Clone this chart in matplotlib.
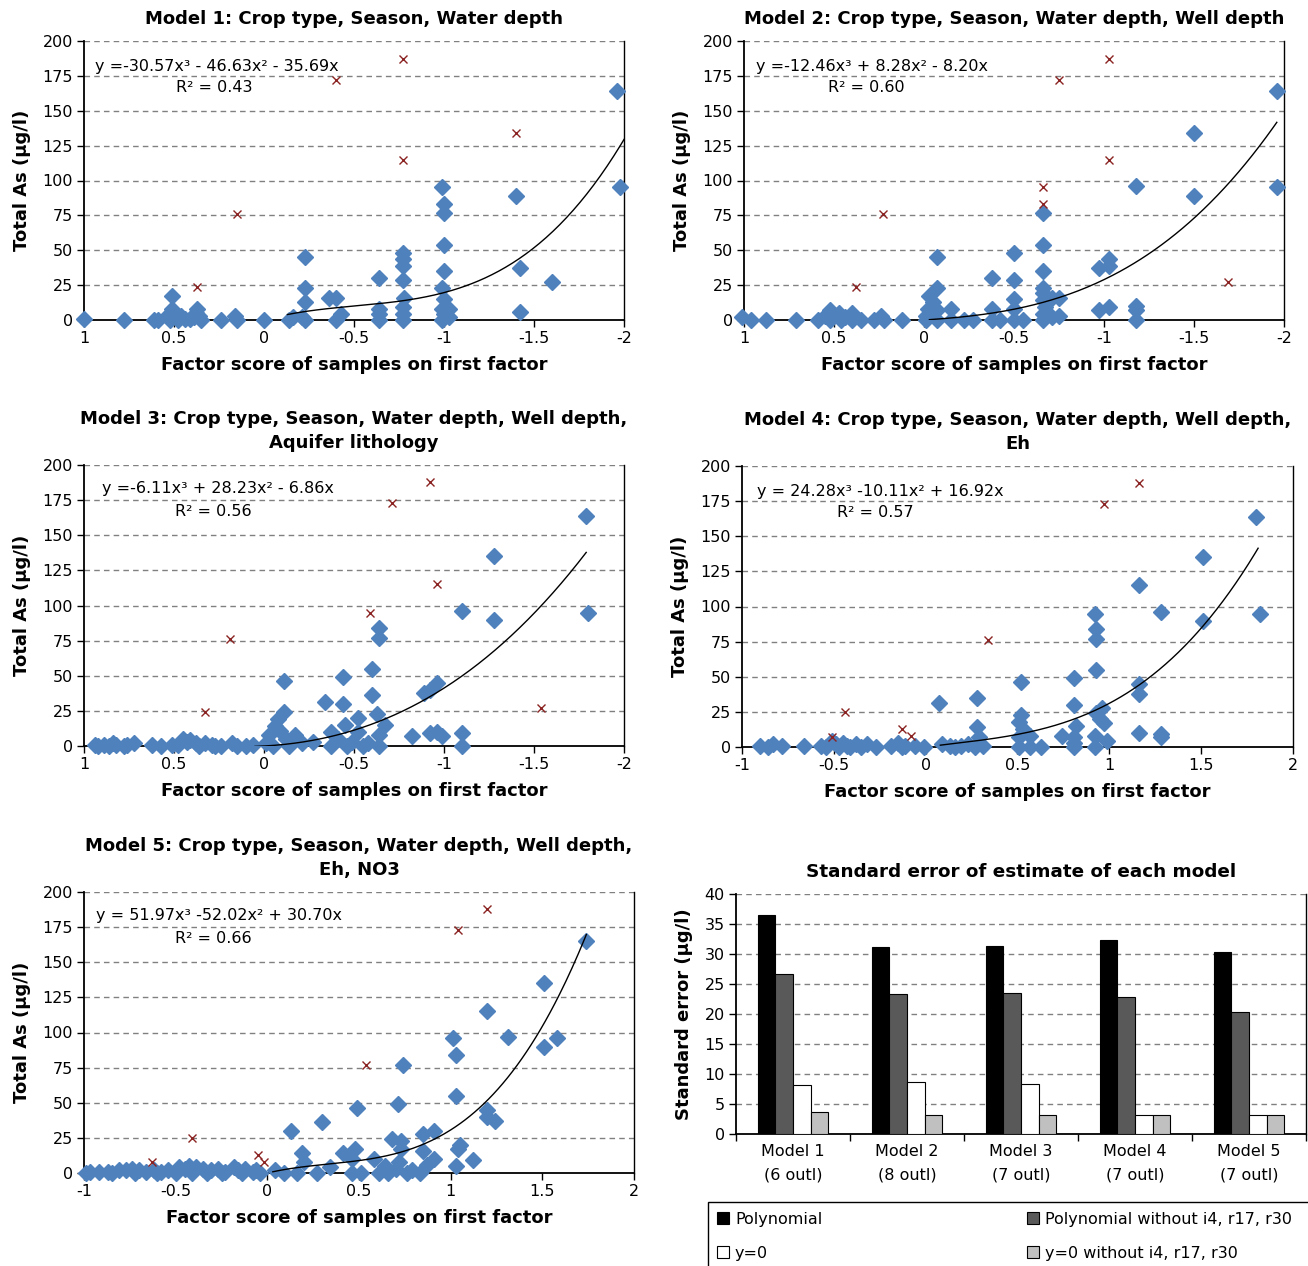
import numpy as np
import matplotlib
matplotlib.use('Agg')
import matplotlib.pyplot as plt
from matplotlib.patches import Rectangle

plt.rcParams['font.family'] = ['DejaVu Sans']
plt.rcParams['axes.unicode_minus'] = False

# ---- data ----
# model 1 (x axis reversed)
m1_pts = [(1.0, 1), (0.78, 0), (0.61, 0), (0.59, 0), (0.51, 17), (0.51, 8), (0.49, 2), (0.52, 0),
          (0.46, 3), (0.41, 1), (0.37, 8), (0.36, 3), (0.35, 0), (0.53, 4), (0.48, 0), (0.44, 1),
          (0.39, 2), (0.38, 5), (0.24, 0), (0.16, 3), (0.15, 0), (0.0, 0), (-0.14, 0), (-0.16, 2),
          (-0.23, 45), (-0.23, 23), (-0.23, 13), (-0.23, 0), (-0.21, 2), (-0.36, 16), (-0.40, 16),
          (-0.40, 0), (-0.43, 4), (-0.64, 30), (-0.64, 8), (-0.64, 0), (-0.64, 4), (-0.77, 48),
          (-0.77, 44), (-0.77, 39), (-0.77, 29), (-0.78, 16), (-0.77, 9), (-0.77, 4), (-0.77, 0),
          (-0.99, 95), (-1.0, 83), (-1.0, 77), (-1.0, 54), (-1.0, 35), (-0.99, 23), (-1.0, 15),
          (-0.99, 8), (-1.0, 4), (-0.99, 0), (-1.03, 8), (-1.03, 2), (-1.40, 89), (-1.42, 37),
          (-1.42, 6), (-1.60, 27), (-1.96, 164), (-1.98, 95)]
m1_out = [(-0.77, 187), (-0.40, 172), (-1.40, 134), (-0.77, 115), (0.15, 76), (0.37, 24)]

m2_pts = [(1.01, 2), (0.96, 0), (0.88, 0), (0.71, 0), (0.59, 0), (0.52, 7), (0.52, 0), (0.47, 5),
          (0.46, 0), (0.40, 5), (0.40, 0), (0.35, 0), (0.28, 0), (0.24, 3), (0.22, 0), (0.12, 0),
          (0.55, 3), (0.44, 2), (-0.07, 45), (-0.07, 23), (-0.03, 17), (-0.05, 13), (-0.02, 8),
          (-0.07, 7), (-0.01, 3), (-0.01, 0), (-0.07, 0), (-0.15, 8), (-0.15, 0), (-0.22, 0),
          (-0.27, 0), (-0.38, 30), (-0.38, 8), (-0.38, 0), (-0.42, 0), (-0.50, 48), (-0.50, 29),
          (-0.50, 15), (-0.50, 8), (-0.50, 0), (-0.55, 0), (-0.66, 77), (-0.66, 54), (-0.66, 35),
          (-0.66, 23), (-0.66, 19), (-0.66, 14), (-0.67, 9), (-0.66, 4), (-0.66, 0), (-0.71, 16),
          (-0.71, 2), (-0.75, 16), (-0.75, 3), (-0.97, 37), (-1.03, 44), (-1.03, 39), (-0.97, 7),
          (-1.03, 9), (-1.18, 96), (-1.18, 10), (-1.18, 7), (-1.18, 0), (-1.50, 134), (-1.50, 89),
          (-1.96, 164), (-1.96, 95)]
m2_out = [(-1.03, 187), (-0.75, 172), (-1.03, 115), (-0.66, 95), (-0.66, 83), (0.23, 76),
          (0.38, 24), (-1.69, 27)]

m3_pts = [(0.94, 1), (0.89, 1), (0.84, 2), (0.82, 1), (0.78, 0), (0.72, 2), (0.92, 0), (0.86, 0),
          (0.76, 1), (0.62, 1), (0.57, 0), (0.51, 1), (0.45, 5), (0.43, 3), (0.41, 4), (0.38, 2),
          (0.33, 2), (0.29, 1), (0.24, 0), (0.18, 2), (0.15, 0), (0.10, 0), (0.06, 1), (0.48, 1),
          (0.36, 0), (0.27, 0), (-0.11, 46), (-0.11, 24), (-0.08, 19), (-0.06, 14), (-0.09, 11),
          (-0.03, 8), (-0.17, 8), (-0.12, 5), (-0.21, 2), (-0.27, 3), (-0.01, 2), (-0.05, 0),
          (-0.14, 0), (-0.34, 31), (-0.37, 10), (-0.37, 0), (-0.44, 49), (-0.44, 30), (-0.45, 15),
          (-0.46, 0), (-0.52, 20), (-0.52, 10), (-0.55, 0), (-0.60, 55), (-0.60, 36), (-0.63, 23),
          (-0.67, 15), (-0.64, 84), (-0.64, 77), (-0.64, 8), (-0.64, 0), (-0.41, 5), (-0.49, 3),
          (-0.58, 2), (-0.82, 7), (-0.89, 38), (-0.92, 40), (-0.96, 45), (-0.92, 9), (-0.96, 10),
          (-0.99, 7), (-1.10, 96), (-1.10, 9), (-1.10, 0), (-1.28, 135), (-1.28, 90),
          (-1.79, 164), (-1.80, 95)]
m3_out = [(-0.92, 188), (-0.71, 173), (-0.96, 115), (-0.59, 95), (0.19, 76), (0.33, 24),
          (-1.54, 27)]

m4_pts = [(-0.90, 1), (-0.83, 2), (-0.78, 1), (-0.66, 1), (-0.57, 1), (-0.51, 4), (-0.49, 2),
          (-0.45, 3), (-0.43, 1), (-0.38, 2), (-0.32, 2), (-0.27, 0), (-0.19, 1), (-0.15, 3),
          (-0.11, 1), (-0.06, 1), (-0.01, 0), (-0.54, 0), (-0.47, 0), (-0.41, 0), (-0.35, 0),
          (-0.13, 0), (-0.86, 0), (0.07, 31), (0.09, 2), (0.16, 0), (0.23, 2), (0.28, 35),
          (0.28, 14), (0.29, 7), (0.27, 0), (0.31, 1), (0.13, 1), (0.19, 1), (0.52, 46), (0.52, 23),
          (0.51, 18), (0.53, 13), (0.51, 7), (0.51, 0), (0.57, 8), (0.57, 0), (0.63, 0), (0.74, 8),
          (0.81, 49), (0.81, 30), (0.82, 15), (0.81, 7), (0.81, 0), (0.81, 3), (0.92, 95),
          (0.93, 84), (0.93, 77), (0.93, 55), (0.96, 28), (0.93, 24), (0.97, 17), (0.92, 8),
          (0.92, 0), (0.99, 4), (0.95, 20), (1.16, 115), (1.16, 45), (1.16, 38), (1.16, 10),
          (1.28, 96), (1.28, 9), (1.28, 7), (1.51, 135), (1.51, 90), (1.80, 164), (1.82, 95)]
m4_out = [(1.16, 188), (0.97, 173), (0.34, 76), (-0.44, 25), (-0.13, 13), (-0.08, 8), (-0.51, 7)]

m5_pts = [(-0.97, 1), (-0.92, 1), (-0.87, 1), (-0.81, 2), (-0.77, 2), (-0.74, 3), (-0.70, 2),
          (-0.66, 1), (-0.62, 2), (-0.58, 1), (-0.54, 2), (-0.48, 4), (-0.45, 3), (-0.43, 5),
          (-0.39, 4), (-0.35, 3), (-0.31, 2), (-0.27, 3), (-0.23, 1), (-0.18, 4), (-0.16, 2),
          (-0.12, 3), (-0.08, 1), (-0.04, 0), (-0.99, 0), (-0.85, 0), (-0.72, 0), (-0.60, 0),
          (-0.50, 0), (-0.41, 0), (-0.33, 0), (-0.25, 0), (-0.14, 0), (-0.06, 2), (0.04, 2),
          (0.09, 0), (0.13, 30), (0.16, 0), (0.19, 14), (0.20, 8), (0.27, 0), (0.30, 36), (0.34, 4),
          (0.41, 14), (0.48, 17), (0.49, 46), (0.46, 10), (0.46, 0), (0.51, 0), (0.58, 10),
          (0.61, 0), (0.66, 0), (0.68, 24), (0.73, 23), (0.71, 49), (0.74, 77), (0.73, 17),
          (0.72, 8), (0.76, 0), (0.83, 0), (0.85, 28), (0.85, 16), (0.91, 30), (0.91, 10),
          (0.87, 6), (0.64, 5), (0.70, 3), (0.79, 2), (1.01, 96), (1.03, 84), (1.03, 55),
          (1.05, 20), (1.04, 17), (1.03, 5), (1.12, 9), (1.20, 115), (1.20, 45), (1.20, 40),
          (1.24, 37), (1.31, 97), (1.51, 135), (1.51, 90), (1.58, 96), (1.74, 165)]
m5_out = [(1.20, 188), (1.04, 173), (0.54, 77), (-0.41, 25), (-0.63, 8), (-0.05, 13), (-0.02, 8)]

# cubic trendline coefficients (x^3, x^2, x, const) and the x range it is drawn over
fit_coefs = [[-30.57, -46.63, -35.69, 0], [-12.46, 8.28, -8.20, 0], [-6.11, 28.23, -6.86, 0],
             [24.28, -10.11, 16.92, 0], [51.97, -52.02, 30.70, 0]]
fit_range = [(-0.13, -2.0), (-0.03, -1.96), (0.05, -1.79), (0.08, 1.81), (0.03, 1.74)]
fit_text = ['y =-30.57x³ - 46.63x² - 35.69x', 'y =-12.46x³ + 8.28x² - 8.20x',
            'y =-6.11x³ + 28.23x² - 6.86x', 'y = 24.28x³ -10.11x² + 16.92x',
            'y = 51.97x³ -52.02x² + 30.70x']
r2_text = ['R² = 0.43', 'R² = 0.60', 'R² = 0.56', 'R² = 0.57', 'R² = 0.66']
titles = ['Model 1: Crop type, Season, Water depth',
          'Model 2: Crop type, Season, Water depth, Well depth',
          'Model 3: Crop type, Season, Water depth, Well depth,\nAquifer lithology',
          'Model 4: Crop type, Season, Water depth, Well depth,\nEh',
          'Model 5: Crop type, Season, Water depth, Well depth,\nEh, NO3']

# standard error bars
models = ['Model 1\n(6 outl)', 'Model 2\n(8 outl)', 'Model 3\n(7 outl)',
          'Model 4\n(7 outl)', 'Model 5\n(7 outl)']
se_poly = [36.5, 31.1, 31.4, 32.4, 30.4]
se_poly_wo = [26.7, 23.3, 23.5, 22.8, 20.3]
se_zero = [8.1, 8.6, 8.4, 3.2, 3.2]
se_zero_wo = [3.7, 3.2, 3.2, 3.2, 3.2]
bar_names = ['Polynomial', 'y=0', 'Polynomial without i4, r17, r30', 'y=0 without i4, r17, r30']

BLUE = '#4F81BD'
RED = '#8B2323'
W, H = 1308, 1266


def box(l, t, r, b):
    return [l / W, 1 - b / H, (r - l) / W, (b - t) / H]


def style_axes(ax, ymax, ystep):
    ax.set_ylim(0, ymax)
    ax.set_yticks(np.arange(0, ymax + 1, ystep))
    for v in np.arange(ystep, ymax + 1, ystep):
        ax.axhline(v, color='#808080', lw=1, ls=(0, (4, 3)), zorder=1)
    ax.spines['top'].set_visible(False)
    ax.spines['left'].set_linewidth(1.3)
    ax.spines['bottom'].set_linewidth(1.3)
    ax.spines['right'].set_linewidth(1)
    ax.tick_params(axis='both', direction='out', length=5, width=1, labelsize=11.5, pad=3)


def scatter_panel(ax, pts, out, i, xlim, xticks):
    pts = np.array(pts)
    out = np.array(out)
    style_axes(ax, 200, 25)
    ax.plot(pts[:, 0], pts[:, 1], ls='none', marker='D', ms=8.5, color=BLUE,
            mec=BLUE, clip_on=False, zorder=3)
    ax.plot(out[:, 0], out[:, 1], ls='none', marker='x', ms=5.5, mew=1, color=RED,
            clip_on=False, zorder=3)
    xs = np.linspace(fit_range[i][0], fit_range[i][1], 200)
    ax.plot(xs, np.polyval(fit_coefs[i], xs), color='black', lw=1, zorder=4)
    ax.set_xlim(*xlim)
    ax.set_xticks(xticks)
    ax.set_xticklabels(['%g' % t for t in xticks])
    ax.set_xlabel('Factor score of samples on first factor', fontsize=13,
                  fontweight='bold', labelpad=7)
    ax.set_ylabel('Total As (µg/l)', fontsize=13, fontweight='bold', labelpad=8)
    ax.set_title(titles[i], fontsize=13, fontweight='bold', pad=12, linespacing=1.45)


fig = plt.figure(figsize=(W / 100, H / 100), dpi=100)

rev_ticks = [1, 0.5, 0, -0.5, -1, -1.5, -2]
fwd_ticks = [-1, -0.5, 0, 0.5, 1, 1.5, 2]

ax1 = fig.add_axes(box(84, 41, 624, 320))
scatter_panel(ax1, m1_pts, m1_out, 0, (1, -2), rev_ticks)
ax2 = fig.add_axes(box(744, 41, 1284, 320))
scatter_panel(ax2, m2_pts, m2_out, 1, (1, -2), rev_ticks)
ax3 = fig.add_axes(box(84, 465, 624, 746))
scatter_panel(ax3, m3_pts, m3_out, 2, (1, -2), rev_ticks)
ax4 = fig.add_axes(box(742, 466, 1293, 747))
scatter_panel(ax4, m4_pts, m4_out, 3, (-1, 2), fwd_ticks)
ax5 = fig.add_axes(box(84, 892, 634, 1173))
scatter_panel(ax5, m5_pts, m5_out, 4, (-1, 2), fwd_ticks)

# equation labels
eq_pos = [(0.02, 0.907, 0.17, 0.832), (0.022, 0.907, 0.155, 0.832), (0.033, 0.915, 0.168, 0.836),
          (0.027, 0.911, 0.172, 0.833), (0.022, 0.915, 0.165, 0.836)]
for ax, i in zip([ax1, ax2, ax3, ax4, ax5], range(5)):
    ex, ey, rx, ry = eq_pos[i]
    ax.text(ex, ey, fit_text[i], transform=ax.transAxes, fontsize=11.5, va='center', ha='left')
    ax.text(rx, ry, r2_text[i], transform=ax.transAxes, fontsize=11.5, va='center', ha='left')

# standard error bar chart
ax6 = fig.add_axes(box(736, 894, 1306, 1134))
style_axes(ax6, 40, 5)
pos = np.arange(len(models))
bw = 0.155
series = [se_poly, se_poly_wo, se_zero, se_zero_wo]
colors = ['black', '#595959', 'white', '#C0C0C0']
handles = []
for k, (vals, c) in enumerate(zip(series, colors)):
    b = ax6.bar(pos + (k - 1.5) * bw, vals, width=bw, color=c, edgecolor='black',
                linewidth=0.8, zorder=3)
    handles.append(b)
ax6.set_xlim(-0.5, 4.5)
ax6.set_xticks(pos)
ax6.set_xticklabels(models, fontsize=11.5, linespacing=1.7)
ax6.tick_params(axis='x', length=0, pad=7)
ax6.set_xticks(np.arange(-0.5, 5, 1), minor=True)
ax6.tick_params(axis='x', which='minor', length=5, width=1)
ax6.set_ylabel('Standard error (µg/l)', fontsize=13, fontweight='bold', labelpad=8)
ax6.set_title('Standard error of estimate of each model', fontsize=13.2, fontweight='bold',
              pad=12)

# legend box (runs off the right and bottom edge as in the original)
fig.patches.append(Rectangle((708 / W, 1 - 1275 / H), 620 / W, 73 / H, transform=fig.transFigure,
                             facecolor='white', edgecolor='black', lw=1))
leg = fig.legend([handles[0], handles[2], handles[1], handles[3]],
                 [bar_names[0], bar_names[1], bar_names[2], bar_names[3]],
                 ncol=2, loc='upper left', bbox_to_anchor=(715 / W, 1 - 1210 / H),
                 frameon=False, fontsize=11.5, handlelength=0.75, handleheight=0.75,
                 handletextpad=0.4, columnspacing=12.8, labelspacing=1.2,
                 borderaxespad=0, borderpad=0.1)

fig.savefig('out.png', dpi=100)
